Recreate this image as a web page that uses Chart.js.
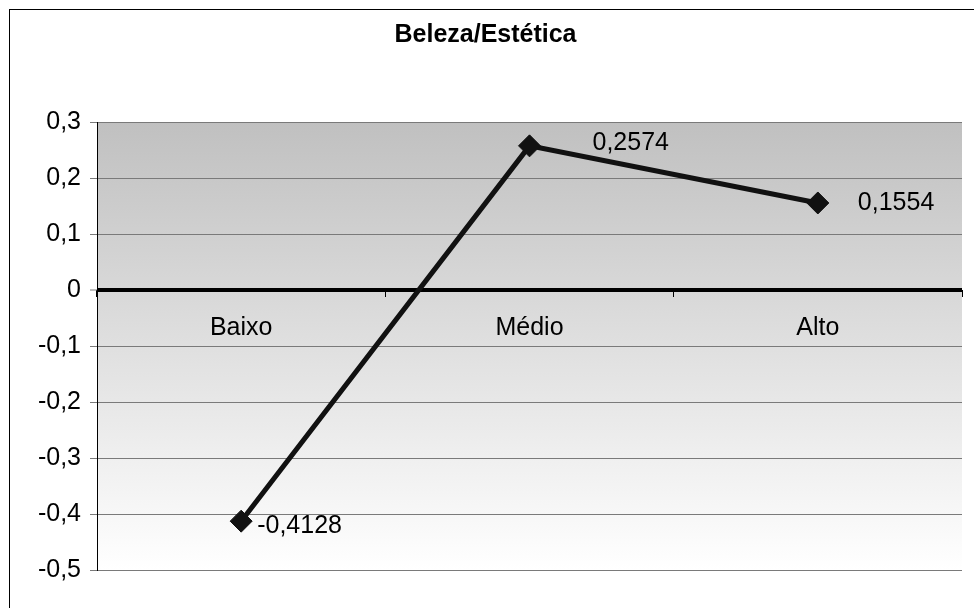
<!DOCTYPE html>
<html><head><meta charset="utf-8">
<style>html,body{margin:0;padding:0;background:#fff;} canvas{display:block;}</style>
<script src="https://cdn.jsdelivr.net/npm/chart.js@4.4.1/dist/chart.umd.min.js"></script>
</head><body>
<div style="width:974px;height:608px;position:relative"><canvas id="c" width="974" height="608"></canvas></div>
<script>
const categories = ['Baixo', 'Médio', 'Alto'];
const values = [-0.4128, 0.2574, 0.1554];
const yMin = -0.5;
const yMax = 0.3;
const yStep = 0.1;
const chartTitle = 'Beleza/Estética';

function fmt(v, d) {
  const s = d === undefined ? String(Math.round(v * 10) / 10) : v.toFixed(d);
  return s.replace('.', ',');
}

Chart.defaults.font.family = "'Liberation Sans', Arial, sans-serif";
Chart.defaults.color = '#000';

const bgPlugin = {
  id: 'bg',
  beforeDraw(chart) {
    const { ctx, chartArea: a } = chart;
    ctx.save();
    ctx.fillStyle = '#fff';
    ctx.fillRect(0, 0, chart.width, chart.height);
    const g = ctx.createLinearGradient(0, a.top, 0, a.bottom);
    g.addColorStop(0, '#c0c0c0');
    g.addColorStop(1, '#ffffff');
    ctx.fillStyle = g;
    ctx.fillRect(a.left, a.top, a.right - a.left, a.bottom - a.top);
    ctx.strokeStyle = '#000';
    ctx.lineWidth = 1;
    ctx.strokeRect(9.5, 9.5, 1000, 1000);
    ctx.restore();
  }
};

const labelPlugin = {
  id: 'valueLabels',
  afterDatasetsDraw(chart, args, opts) {
    const { ctx } = chart;
    const meta = chart.getDatasetMeta(0);
    ctx.save();
    ctx.font = '25px ' + Chart.defaults.font.family;
    ctx.fillStyle = '#000';
    ctx.textAlign = 'left';
    ctx.textBaseline = 'middle';
    meta.data.forEach((p, i) => {
      const off = opts.offsets[i];
      ctx.fillText(fmt(values[i], 4), p.x + off[0], p.y + off[1]);
    });
    ctx.restore();
  }
};

new Chart(document.getElementById('c'), {
  type: 'line',
  data: {
    labels: categories,
    datasets: [{
      data: values,
      borderColor: '#111',
      borderWidth: 5,
      pointStyle: 'rectRot',
      pointRadius: 11,
      pointBackgroundColor: '#111',
      pointBorderColor: '#111',
      pointBorderWidth: 1,
      tension: 0,
      clip: false
    }]
  },
  options: {
    responsive: false,
    animation: false,
    devicePixelRatio: 1,
    layout: { padding: { left: 9, right: 12, top: 0, bottom: 38 } },
    plugins: {
      legend: { display: false },
      tooltip: { enabled: false },
      title: {
        display: true,
        text: chartTitle,
        font: { size: 25, weight: 'bold' },
        color: '#000',
        padding: { top: 20, bottom: 72 }
      },
      valueLabels: { offsets: [[16, 5], [63, -3], [40, 0]] }
    },
    scales: {
      x: {
        type: 'category',
        position: { y: 0 },
        offset: true,
        grid: { offset: true, drawOnChartArea: false, drawTicks: true, tickLength: 7, color: '#000', lineWidth: 1 },
        border: { display: false },
        ticks: { padding: 16, color: '#000', font: { size: 25 }, maxRotation: 0 }
      },
      y: {
        min: yMin,
        max: yMax,
        afterFit(scale) { scale.width = 88; },
        ticks: {
          stepSize: yStep,
          padding: 9,
          color: '#000',
          font: { size: 25 },
          callback: v => fmt(v)
        },
        grid: {
          color: c => (c.tick && Math.abs(c.tick.value) < 1e-9) ? '#000' : '#7a7a7a',
          lineWidth: c => (c.tick && Math.abs(c.tick.value) < 1e-9) ? 4 : 1,
          tickLength: 7,
          tickColor: '#7a7a7a',
          tickWidth: 1
        },
        border: { display: true, color: '#000', width: 1 }
      }
    }
  },
  plugins: [bgPlugin, labelPlugin]
});
</script>
</body></html>
